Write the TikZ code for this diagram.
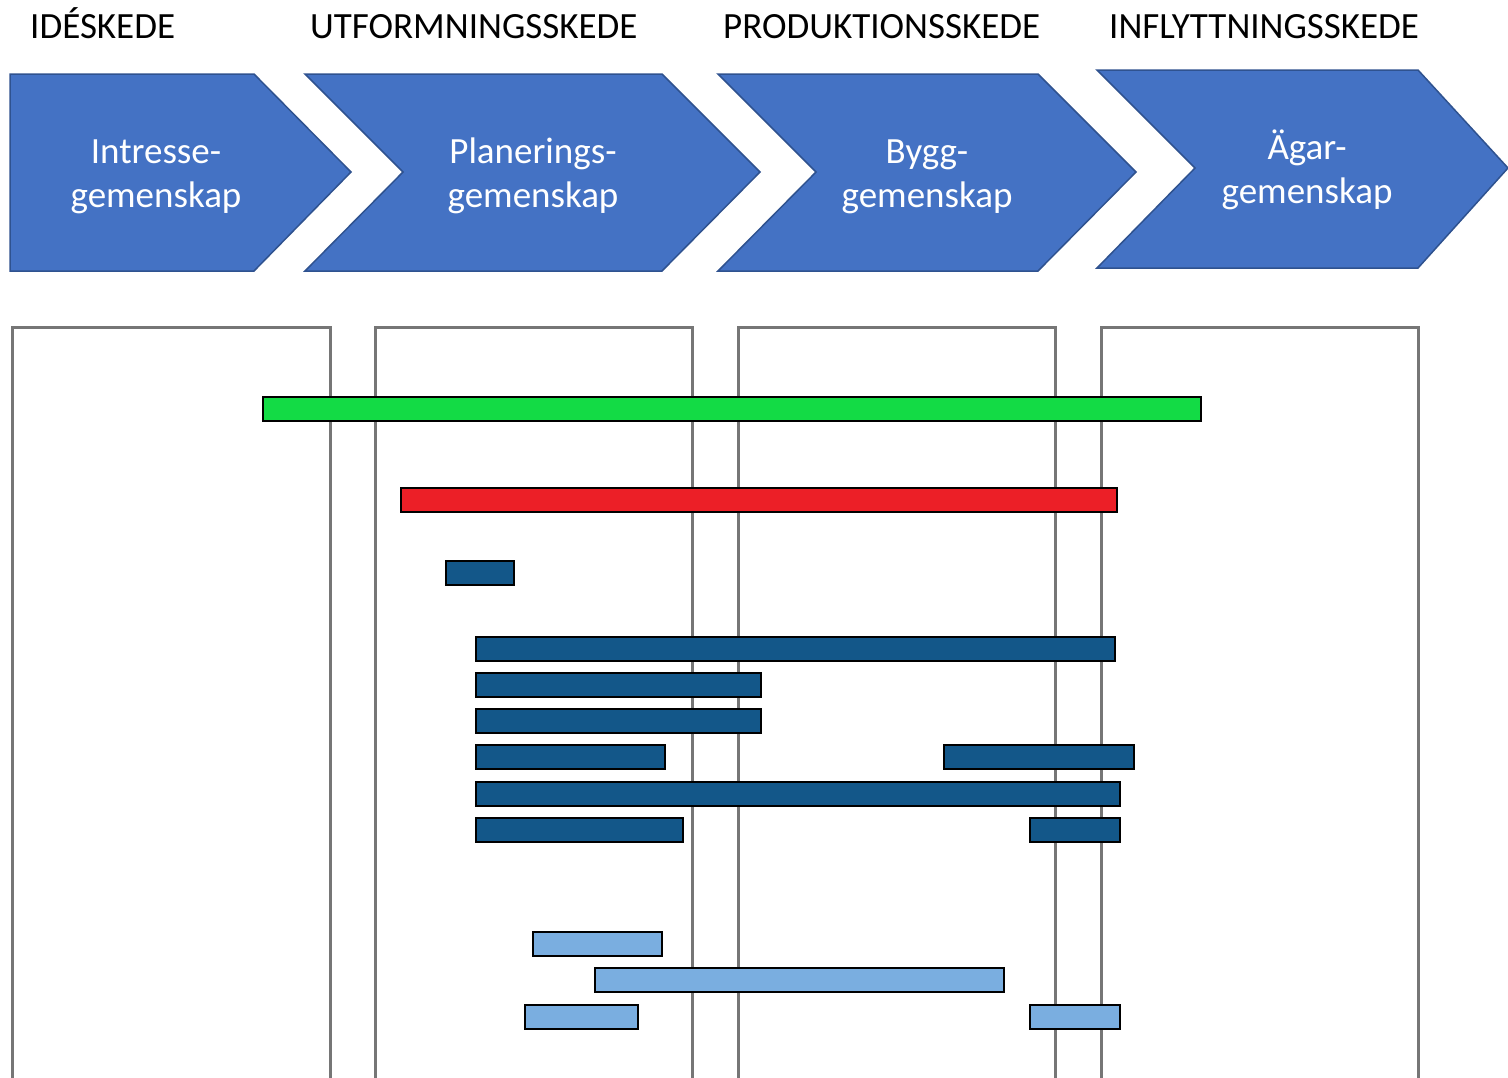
\documentclass[tikz,border=0pt]{standalone}
\usepackage{fontspec}
\setmainfont{Carlito}
\definecolor{chev}{HTML}{4472C4}
\definecolor{chevline}{HTML}{2F528F}
\definecolor{colline}{HTML}{767676}
\definecolor{bargreen}{HTML}{13DB45}
\definecolor{barred}{HTML}{EC1F27}
\definecolor{bardark}{HTML}{135789}
\definecolor{barlight}{HTML}{7AAEE0}
\tikzset{
  chevron/.style={fill=chev, draw=chevline, line width=1.5pt, line join=miter},
  phase/.style={anchor=base west, inner sep=0pt, font=\fontsize{37}{45}\selectfont},
  chevtext/.style={anchor=base, inner sep=0pt, text=white, font=\fontsize{37}{45}\selectfont},
  column/.style={draw=colline, line width=3pt},
  bar/.style={draw=black, line width=2.2pt}
}
\begin{document}
\begin{tikzpicture}[x=1pt,y=-1pt]
\useasboundingbox (0,0) rectangle (1508,1077);
\begin{scope}
\clip (0,0) rectangle (1508,1077);

% phase headings
\node[phase] (h1) at (30,38) {IDÉSKEDE};
\node[phase] (h2) at (310,38) {UTFORMNINGSSKEDE};
\node[phase] (h3) at (723,38) {PRODUKTIONSSKEDE};
\node[phase] (h4) at (1109,38) {INFLYTTNINGSSKEDE};

% process chevrons
\draw[chevron] (10,74) -- (254,74) -- (351,172) -- (254,271) -- (10,271) -- cycle;
\draw[chevron] (305,74) -- (662,74) -- (760,172) -- (662,271) -- (305,271) -- (403,172) -- cycle;
\draw[chevron] (718,74) -- (1038,74) -- (1136,172) -- (1038,271) -- (718,271) -- (816,172) -- cycle;
\draw[chevron] (1097,70) -- (1418,70) -- (1508,168) -- (1418,268) -- (1097,268) -- (1195,168) -- cycle;

\node[chevtext] (c1a) at (156,163) {Intresse-};
\node[chevtext] (c1b) at (156,207) {gemenskap};
\node[chevtext] (c2a) at (533,163) {Planerings-};
\node[chevtext] (c2b) at (533,207) {gemenskap};
\node[chevtext] (c3a) at (927,163) {Bygg-};
\node[chevtext] (c3b) at (927,207) {gemenskap};
\node[chevtext] (c4a) at (1307,159) {Ägar-};
\node[chevtext] (c4b) at (1307,203) {gemenskap};

% phase columns, open at the bottom
\draw[column] (12,1090) -- (12,327) -- (330,327) -- (330,1090);
\draw[column] (375,1090) -- (375,327) -- (692,327) -- (692,1090);
\draw[column] (738,1090) -- (738,327) -- (1055,327) -- (1055,1090);
\draw[column] (1101,1090) -- (1101,327) -- (1418,327) -- (1418,1090);

% activity bars
\draw[bar, fill=bargreen] (263,397) rectangle (1201,421);
\draw[bar, fill=barred] (401,488) rectangle (1117,512);

\draw[bar, fill=bardark] (446,561) rectangle (514,585);
\draw[bar, fill=bardark] (476,637) rectangle (1115,661);
\draw[bar, fill=bardark] (476,673) rectangle (761,697);
\draw[bar, fill=bardark] (476,709) rectangle (761,733);
\draw[bar, fill=bardark] (476,745) rectangle (665,769);
\draw[bar, fill=bardark] (944,745) rectangle (1134,769);
\draw[bar, fill=bardark] (476,782) rectangle (1120,806);
\draw[bar, fill=bardark] (476,818) rectangle (683,842);
\draw[bar, fill=bardark] (1030,818) rectangle (1120,842);

\draw[bar, fill=barlight] (533,932) rectangle (662,956);
\draw[bar, fill=barlight] (595,968) rectangle (1004,992);
\draw[bar, fill=barlight] (525,1005) rectangle (638,1029);
\draw[bar, fill=barlight] (1030,1005) rectangle (1120,1029);
\end{scope}
\end{tikzpicture}
\end{document}
